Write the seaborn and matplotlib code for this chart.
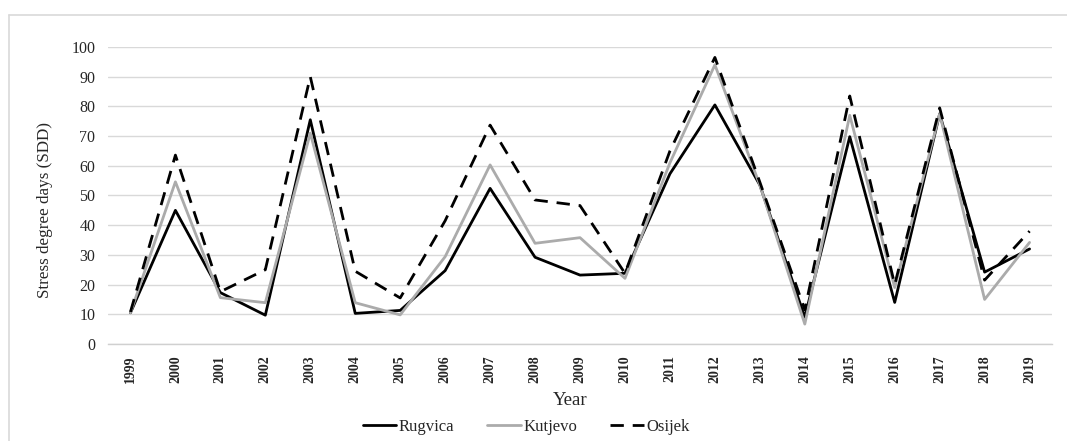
import pandas as pd
import seaborn as sns
import matplotlib.pyplot as plt
from matplotlib.lines import Line2D
from matplotlib.ticker import FixedLocator

# values
years = [str(y) for y in range(1999, 2020)]
rugvica = [10.5, 45, 17.3, 9.7, 75.5, 10.3, 11.3, 24.7, 52.4, 29.2, 23.2, 23.8,
           57.3, 80.5, 53.5, 9, 69.8, 14, 77.5, 24.2, 32]
kutjevo = [10.5, 54.6, 15.6, 13.9, 71, 13.9, 9.8, 29.4, 60.3, 33.9, 35.8, 22.1,
           61, 94, 53.5, 6.7, 77, 19, 77.5, 15, 34.2]
osijek = [10.8, 63.6, 17.6, 25, 90, 24.5, 15.5, 41.5, 73.7, 48.5, 46.6, 23.8,
          65, 96.5, 54.5, 11.5, 83.5, 20, 79.5, 21.5, 38]
series_names = ["Rugvica", "Kutjevo", "Osijek"]

df = pd.DataFrame({"Year": years, "Rugvica": rugvica, "Kutjevo": kutjevo, "Osijek": osijek})
long_df = df.melt(id_vars="Year", var_name="Station", value_name="SDD")

sns.set_style("white")
plt.rcParams['font.family'] = ['Liberation Serif', 'DejaVu Serif']

fig = plt.figure(figsize=(10.67, 4.41), dpi=100)
ax = fig.add_axes([0.1012, 0.22, 0.8848, 0.6734])

colors = {"Rugvica": "black", "Kutjevo": "#ababab", "Osijek": "black"}
dashes = {"Rugvica": "", "Kutjevo": "", "Osijek": (4.8, 3.2)}
sns.lineplot(data=long_df, x="Year", y="SDD", hue="Station", style="Station",
             palette=colors, dashes=dashes, hue_order=series_names,
             style_order=series_names, linewidth=2.0, sort=False, ax=ax,
             legend=False)
# draw Osijek on top like in the reference
for line in ax.get_lines():
    if line.get_linestyle() not in ("-", "solid"):
        line.set_zorder(5)

ax.set_xlim(-0.5, len(years) - 0.5)
ax.set_ylim(0, 100)
ax.set_yticks(range(0, 101, 10))
ax.yaxis.grid(True, color="#d9d9d9", linewidth=1.0)
ax.set_axisbelow(True)

for side in ["top", "right", "left"]:
    ax.spines[side].set_visible(False)
ax.spines["bottom"].set_color("#d0d0d0")
ax.spines["bottom"].set_linewidth(1.0)

ax.tick_params(axis="y", length=0, labelsize=11.5, pad=9)
ax.tick_params(axis="x", which="major", length=0, labelsize=10, rotation=90, pad=8)
ax.xaxis.set_minor_locator(FixedLocator([i - 0.5 for i in range(len(years) + 1)]))
ax.tick_params(axis="x", which="minor", length=5, color="#d0d0d0", width=1.0)
for lbl in ax.get_xticklabels():
    lbl.set_fontweight("bold")

ax.set_xlabel("Year", fontsize=13.5)
ax.set_ylabel("Stress degree days (SDD)", fontsize=12.3)
ax.xaxis.set_label_coords(0.489, -0.189)
ax.yaxis.set_label_coords(-0.067, 0.45)
ax.yaxis.label.set_va("center")
ax.xaxis.label.set_va("center")

handles = [Line2D([], [], color="black", lw=2.0),
           Line2D([], [], color="#ababab", lw=2.0),
           Line2D([], [], color="black", lw=2.0, dashes=(4.8, 3.2))]
fig.legend(handles, series_names, loc="center", bbox_to_anchor=(0.493, 0.032),
           ncol=3, frameon=False, fontsize=12, handlelength=2.0,
           handletextpad=0.15, columnspacing=2.0)

# light outer frame (top and left edges visible in the reference)
fig.add_artist(Line2D([9 / 1067, 1.0], [1 - 15 / 441, 1 - 15 / 441],
                      transform=fig.transFigure, color="#d9d9d9", lw=1.2))
fig.add_artist(Line2D([9 / 1067, 9 / 1067], [0, 1 - 15 / 441],
                      transform=fig.transFigure, color="#d9d9d9", lw=1.2))

fig.savefig("out.png", dpi=100)
